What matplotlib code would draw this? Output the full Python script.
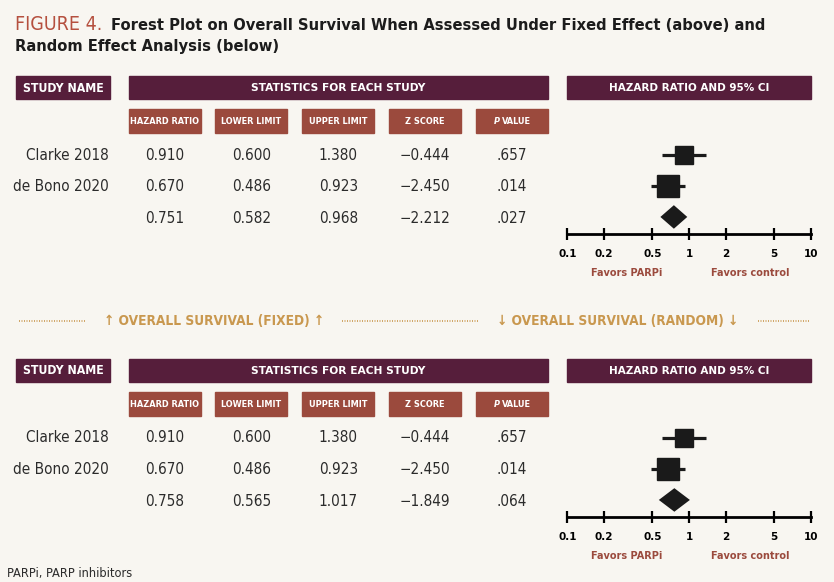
import numpy as np
import matplotlib
matplotlib.use("Agg")
import matplotlib.pyplot as plt
from matplotlib.patches import Rectangle

# Daten aus der Abbildung
studies = ["Clarke 2018", "de Bono 2020"]
hr = [0.910, 0.670]
lower = [0.600, 0.486]
upper = [1.380, 0.923]
z_score = [-0.444, -2.450]
p_value = [".657", ".014"]
box_size = [13, 16.5]  # Gewicht der Studie (Markergroesse)

# Zusammenfassung: HR, lower, upper, z, p
fixed_summary = [0.751, 0.582, 0.968, -2.212, ".027"]
random_summary = [0.758, 0.565, 1.017, -1.849, ".064"]

col_headers = ["HAZARD RATIO", "LOWER LIMIT", "UPPER LIMIT", "Z SCORE", "VALUE"]
ticks = [0.1, 0.2, 0.5, 1, 2, 5, 10]
tick_labels = ["0.1", "0.2", "0.5", "1", "2", "5", "10"]

BG = "#f8f6f1"
MAROON = "#561e3b"
RUST = "#9b4a3d"
GOLD = "#c9984f"
TEXT = "#2b2b2b"
TITLE_RED = "#b5503f"

NARROW = ["Liberation Sans Narrow", "DejaVu Sans"]

W, H = 834, 582
fig = plt.figure(figsize=(W / 100, H / 100), dpi=100, facecolor=BG)
ax = fig.add_axes([0, 0, 1, 1])
ax.set_xlim(0, W)
ax.set_ylim(H, 0)
ax.axis("off")

col_x = [(129, 200.7), (215.3, 287.3), (302.3, 374.3), (389, 461), (475.7, 547.7)]
col_c = [(a + b) / 2 for a, b in col_x]


def fmt(v):
    if isinstance(v, str):
        return v
    s = f"{abs(v):.3f}"
    return ("\u2212" + s) if v < 0 else s


def section(off, summary):
    # Kopfzeilen
    for x0, x1 in [(16, 110), (129, 547.7), (567.3, 810.7)]:
        ax.add_patch(Rectangle((x0, 76 + off), x1 - x0, 23.3, color=MAROON))
    ax.text(63, 88 + off, "STUDY NAME", color="white", fontsize=8.8, fontweight="bold",
            family=NARROW, fontstretch="condensed", ha="center", va="center")
    ax.text(338.3, 88 + off, "STATISTICS FOR EACH STUDY", color="white", fontsize=7.7,
            fontweight="bold", ha="center", va="center")
    ax.text(689, 88 + off, "HAZARD RATIO AND 95% CI", color="white", fontsize=7.5,
            fontweight="bold", ha="center", va="center")

    for (x0, x1), lab in zip(col_x, col_headers):
        ax.add_patch(Rectangle((x0, 109.3 + off), x1 - x0, 23.4, color=RUST))
        if lab == "VALUE":
            ax.text(502, 121.5 + off, lab, color="white", fontsize=6.6, fontweight="bold",
                    family=NARROW, fontstretch="condensed", ha="left", va="center")
            ax.text(500, 121.5 + off, "P", color="white", fontsize=6.6, fontweight="bold",
                    style="italic", family=NARROW, fontstretch="condensed", ha="right", va="center")
        else:
            ax.text((x0 + x1) / 2, 121.5 + off, lab, color="white", fontsize=6.6, fontweight="bold",
                    family=NARROW, fontstretch="condensed", ha="center", va="center")

    # Tabellenwerte
    rows_y = [155, 186.7, 218.3]
    for i, name in enumerate(studies):
        ax.text(108.3, rows_y[i] + off, name, color=TEXT, fontsize=11, family=NARROW,
                fontstretch="condensed", ha="right", va="center")
        vals = [hr[i], lower[i], upper[i], z_score[i], p_value[i]]
        for c, v in zip(col_c, vals):
            ax.text(c, rows_y[i] + off, fmt(v), color=TEXT, fontsize=11, family=NARROW,
                    fontstretch="condensed", ha="center", va="center")
    for c, v in zip(col_c, summary):
        ax.text(c, rows_y[2] + off, fmt(v), color=TEXT, fontsize=11, family=NARROW,
                fontstretch="condensed", ha="center", va="center")

    # Forest plot
    top, bottom = 139.5 + off, 234.3 + off
    fa = fig.add_axes([567.3 / W, 1 - bottom / H, 243.4 / W, (bottom - top) / H])
    fa.patch.set_alpha(0)
    fa.set_xscale("log")
    fa.set_xlim(0.1, 10)
    fa.set_ylim(2.56, -0.5)
    for s in ["top", "left", "right"]:
        fa.spines[s].set_visible(False)
    fa.spines["bottom"].set_linewidth(2)
    fa.set_yticks([])
    fa.set_xticks(ticks, tick_labels)
    fa.minorticks_off()
    fa.tick_params(axis="x", direction="inout", length=9, width=1.6, pad=6,
                   labelsize=7.5)
    for t in fa.get_xticklabels():
        t.set_fontweight("bold")

    rows = np.arange(len(studies))
    fa.hlines(rows, lower, upper, color="#1a1a1a", lw=2.3)
    for r, h, s in zip(rows, hr, box_size):
        fa.plot(h, r, "s", color="#1a1a1a", ms=s)
    est, lo, hi = summary[0], summary[1], summary[2]
    d = 2
    fa.fill([lo, est, hi, est], [d, d - 0.38, d, d + 0.38], color="#1a1a1a", lw=0)

    ax.text(627, 272.7 + off, "Favors PARPi", color=RUST, fontsize=7, fontweight="bold",
            ha="center", va="center")
    ax.text(750, 272.7 + off, "Favors control", color=RUST, fontsize=7, fontweight="bold",
            ha="center", va="center")


section(0, fixed_summary)
section(283, random_summary)

# Titel
ax.text(15, 29.5, "FIGURE 4.", color=TITLE_RED, fontsize=14, family=NARROW,
        fontstretch="condensed", va="baseline")
ax.text(111, 29.5, "Forest Plot on Overall Survival When Assessed Under Fixed Effect (above) and",
        color="#1c1c1c", fontsize=11.8, fontweight="bold", family=NARROW,
        fontstretch="condensed", va="baseline")
ax.text(15, 50.5, "Random Effect Analysis (below)", color="#1c1c1c", fontsize=11.8,
        fontweight="bold", family=NARROW, fontstretch="condensed", va="baseline")

# Trennlinie
for x0, x1 in [(18.6, 86), (342, 478.7), (758, 810)]:
    ax.plot([x0, x1], [321, 321], color=GOLD, lw=1.2, ls=(0, (0.6, 0.9)))
ax.text(214, 321, "\u2191 OVERALL SURVIVAL (FIXED) \u2191", color=GOLD, fontsize=9.8,
        fontweight="bold", family=NARROW, fontstretch="condensed", ha="center", va="center")
ax.text(618, 321, "\u2193 OVERALL SURVIVAL (RANDOM) \u2193", color=GOLD, fontsize=9.8,
        fontweight="bold", family=NARROW, fontstretch="condensed", ha="center", va="center")

ax.text(7, 573, "PARPi, PARP inhibitors", color=TEXT, fontsize=9.2, family=NARROW,
        fontstretch="condensed", ha="left", va="center")

fig.savefig("out.png", dpi=100, facecolor=BG)
